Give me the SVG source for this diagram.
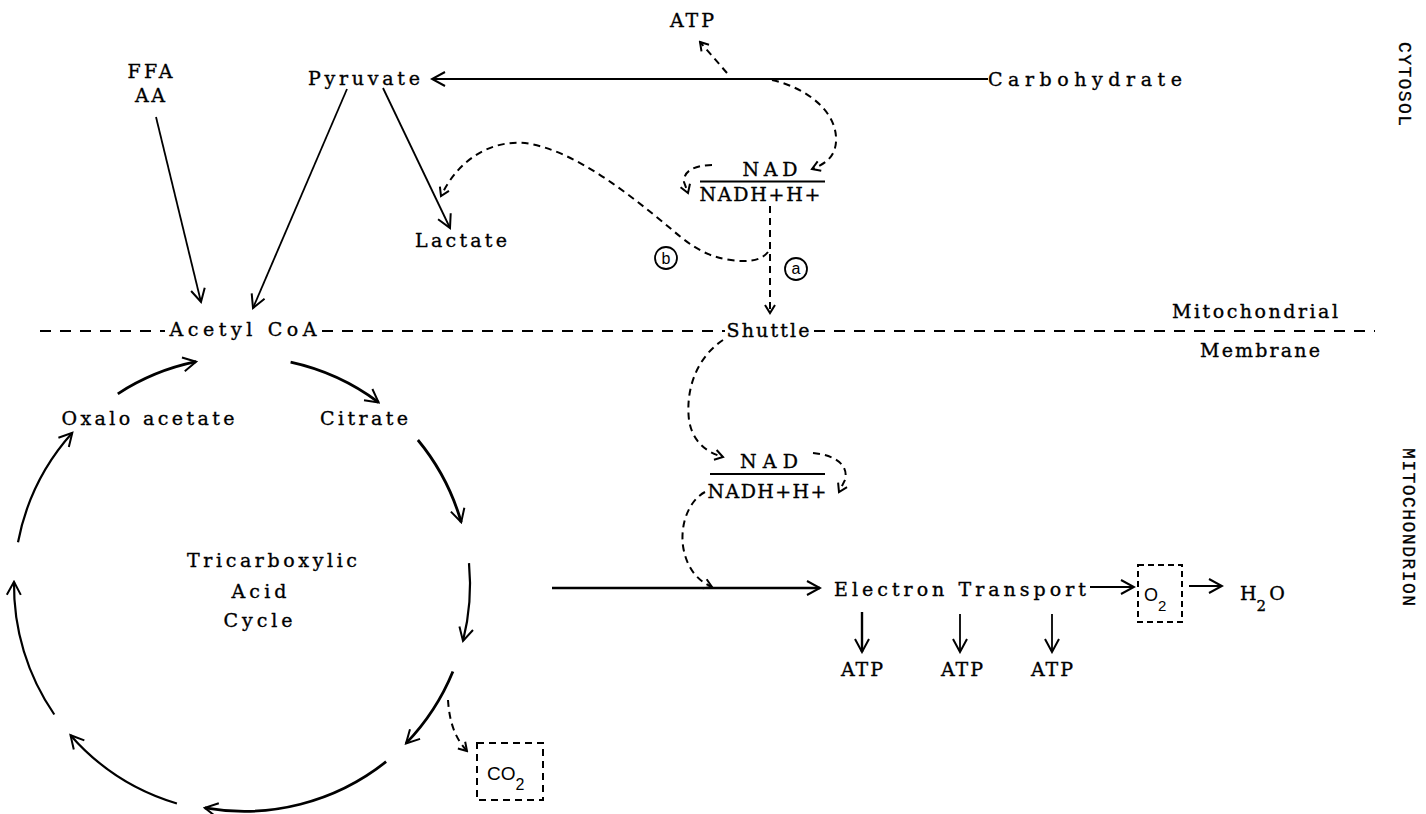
<svg xmlns="http://www.w3.org/2000/svg" width="1426" height="814" viewBox="0 0 1426 814">
<style>
.t{font-family:"DejaVu Serif","Liberation Serif",serif;font-size:19px;fill:#000;stroke:#000;stroke-width:0.35;text-anchor:middle}
.s{font-family:"Liberation Sans","DejaVu Sans",sans-serif;fill:#000}
.v{font-family:"Liberation Mono","DejaVu Sans Mono",monospace;font-size:18px;fill:#000;stroke:#000;stroke-width:0.3}
.ln{stroke:#000;fill:none;stroke-width:1.8}
.thk{stroke-width:2.8}
.d{stroke-dasharray:7 5;stroke-width:2}
.mem{stroke:#000;stroke-width:2;stroke-dasharray:11 9;fill:none}
.box{stroke:#000;fill:none;stroke-width:2;stroke-dasharray:6 4}
.bar{stroke:#000;stroke-width:2.2}
</style>
<defs>
<marker id="ah" markerUnits="userSpaceOnUse" viewBox="-14 -9 16 18" refX="0" refY="0" markerWidth="16" markerHeight="18" orient="auto">
<path d="M-13,-7 L0,0 L-13,7" fill="none" stroke="#000" stroke-width="2"/>
</marker>
<marker id="ahs" markerUnits="userSpaceOnUse" viewBox="-10 -7 12 14" refX="0" refY="0" markerWidth="12" markerHeight="14" orient="auto">
<path d="M-8,-5 L0,0 L-8,5" fill="none" stroke="#000" stroke-width="2"/>
</marker>
</defs>
<rect width="1426" height="814" fill="#fff"/>

<g id="connectors">
<path class="mem" d="M40,331 H165 M322,331 H725 M814,331 H1375"/>
<path class="ln" d="M988,79 H432" marker-end="url(#ah)"/>
<path class="ln" d="M156,117 L201,302" marker-end="url(#ah)"/>
<path class="ln" d="M347,89 L253,308" marker-end="url(#ah)"/>
<path class="ln" d="M383,88 L450,228" marker-end="url(#ah)"/>
<path class="ln d" d="M727,73 L700,42" marker-end="url(#ahs)"/>
<path class="ln d" d="M772,80 C807,88 838,112 836,142 C835,157 825,164 812,169" marker-end="url(#ahs)"/>
<path class="ln d" d="M712,165 C697,165 683,170 684,182 L688,193" marker-end="url(#ahs)"/>
<path class="ln d" d="M770,206 V313" marker-end="url(#ahs)"/>
<path class="ln d" d="M768,252 C760,262 745,262 731,260 C708,257 693,248 670,228 C630,195 575,150 525,143 C490,140 458,160 441,196" marker-end="url(#ahs)"/>
<path class="ln d" d="M723,340 C700,355 685,385 689,420 C692,440 705,452 723,457" marker-end="url(#ahs)"/>
<path class="ln d" d="M813,453 C835,455 849,465 845,480 L839,492" marker-end="url(#ahs)"/>
<path class="ln d" d="M705,492 C690,500 680,522 683,546 C686,566 696,580 712,587" marker-end="url(#ahs)"/>
<path class="ln" d="M552,588 H820" marker-end="url(#ah)" style="stroke-width:2.4"/>
<path class="ln" d="M1090,587 H1134" marker-end="url(#ah)"/>
<path class="ln" d="M1189,586 H1222" marker-end="url(#ah)" style="stroke-width:2.2"/>
<path class="ln" d="M862,612 V652" marker-end="url(#ah)" style="stroke-width:2.4"/>
<path class="ln" d="M960,614 V652" marker-end="url(#ah)"/>
<path class="ln" d="M1052,614 V652" marker-end="url(#ah)"/>
<path class="ln thk" d="M290.6,362.2 A228,228 0 0 1 378.6,402.4" marker-end="url(#ah)"/>
<path class="ln thk" d="M417.9,440 A228,228 0 0 1 461.2,522.2" marker-end="url(#ah)"/>
<path class="ln" d="M469,563.2 A228,228 0 0 1 463,640.9" marker-end="url(#ah)" style="stroke-width:2.2"/>
<path class="ln thk" d="M452.9,671.5 A228,228 0 0 1 406,743.4" marker-end="url(#ah)"/>
<path class="ln thk" d="M386.1,761.7 A228,228 0 0 1 204.8,807.9" marker-end="url(#ah)"/>
<path class="ln" d="M176.9,803.5 A228,228 0 0 1 70.5,735.2" marker-end="url(#ah)" style="stroke-width:2.2"/>
<path class="ln" d="M54.3,714.5 A228,228 0 0 1 14,581.8" marker-end="url(#ah)" style="stroke-width:2.2"/>
<path class="ln" d="M18,542.3 A228,228 0 0 1 72.3,432.7" marker-end="url(#ah)" style="stroke-width:2.2"/>
<path class="ln thk" d="M117.8,393.8 A228,228 0 0 1 196.1,361.7" marker-end="url(#ah)"/>
<path class="ln d" d="M448,700 C449,715 452,735 467,751" marker-end="url(#ahs)"/>
</g>

<g id="n-atp-top"><text class="t" x="692" y="27" textLength="44">ATP</text></g>
<g id="n-ffa"><text class="t" x="150" y="78" textLength="45">FFA</text><text class="t" x="150" y="102" textLength="30">AA</text></g>
<g id="n-pyruvate"><text class="t" x="364" y="85" textLength="112">Pyruvate</text></g>
<g id="n-carbohydrate"><text class="t" x="1085" y="86" textLength="194">Carbohydrate</text></g>
<g id="n-lactate"><text class="t" x="461" y="247" textLength="92">Lactate</text></g>
<g id="n-nad-cyto">
<text class="t" x="770" y="176" textLength="55">NAD</text>
<line class="bar" x1="700" y1="181.5" x2="825" y2="181.5"/>
<text class="t" x="760" y="201" textLength="121">NADH+H+</text>
</g>
<g id="n-b"><circle cx="666" cy="258" r="11" fill="none" stroke="#000" stroke-width="1.8"/><text class="s" x="666" y="264" font-size="16" text-anchor="middle">b</text></g>
<g id="n-a"><circle cx="796" cy="269" r="11" fill="none" stroke="#000" stroke-width="1.8"/><text class="s" x="796" y="274" font-size="16" text-anchor="middle">a</text></g>
<g id="n-shuttle"><text class="t" x="768" y="337" textLength="83">Shuttle</text></g>
<g id="n-acetylcoa"><text class="t" x="243" y="336" textLength="147">Acetyl CoA</text></g>
<g id="n-membrane"><text class="t" x="1255" y="318" textLength="166">Mitochondrial</text><text class="t" x="1260" y="357" textLength="120">Membrane</text></g>
<g id="n-oxalo"><text class="t" x="148" y="425" textLength="173">Oxalo acetate</text></g>
<g id="n-citrate"><text class="t" x="364" y="425" textLength="88">Citrate</text></g>
<g id="n-nad-mito">
<text class="t" x="769" y="468" textLength="58">NAD</text>
<line class="bar" x1="710" y1="474" x2="825" y2="474"/>
<text class="t" x="767" y="498" textLength="119">NADH+H+</text>
</g>
<g id="n-tca"><text class="t" x="272" y="567" textLength="170">Tricarboxylic</text><text class="t" x="259" y="598" textLength="55">Acid</text><text class="t" x="258" y="627" textLength="69">Cycle</text></g>
<g id="n-et"><text class="t" x="960" y="596" textLength="252">Electron Transport</text></g>
<g id="n-o2"><rect class="box" x="1138" y="565" width="44" height="57"/><text class="s" font-size="18" x="1144" y="601">O<tspan font-size="15" dy="10">2</tspan></text></g>
<g id="n-h2o"><text class="t" x="1240" y="600" style="text-anchor:start">H<tspan font-size="15" dy="11">2</tspan><tspan dy="-11" dx="3">O</tspan></text></g>
<g id="n-atp1"><text class="t" x="862" y="676" textLength="42">ATP</text></g>
<g id="n-atp2"><text class="t" x="962" y="676" textLength="42">ATP</text></g>
<g id="n-atp3"><text class="t" x="1052" y="676" textLength="42">ATP</text></g>
<g id="n-co2"><rect class="box" x="477" y="743" width="66" height="57" style="stroke-dasharray:7 5"/><text class="s" font-size="19" x="487" y="780">CO<tspan font-size="16" dy="10">2</tspan></text></g>
<g id="n-cytosol"><text class="v" transform="translate(1399,42) rotate(90)" textLength="84">CYTOSOL</text></g>
<g id="n-mito"><text class="v" transform="translate(1403,448) rotate(90)" textLength="158">MITOCHONDRION</text></g>
</svg>
